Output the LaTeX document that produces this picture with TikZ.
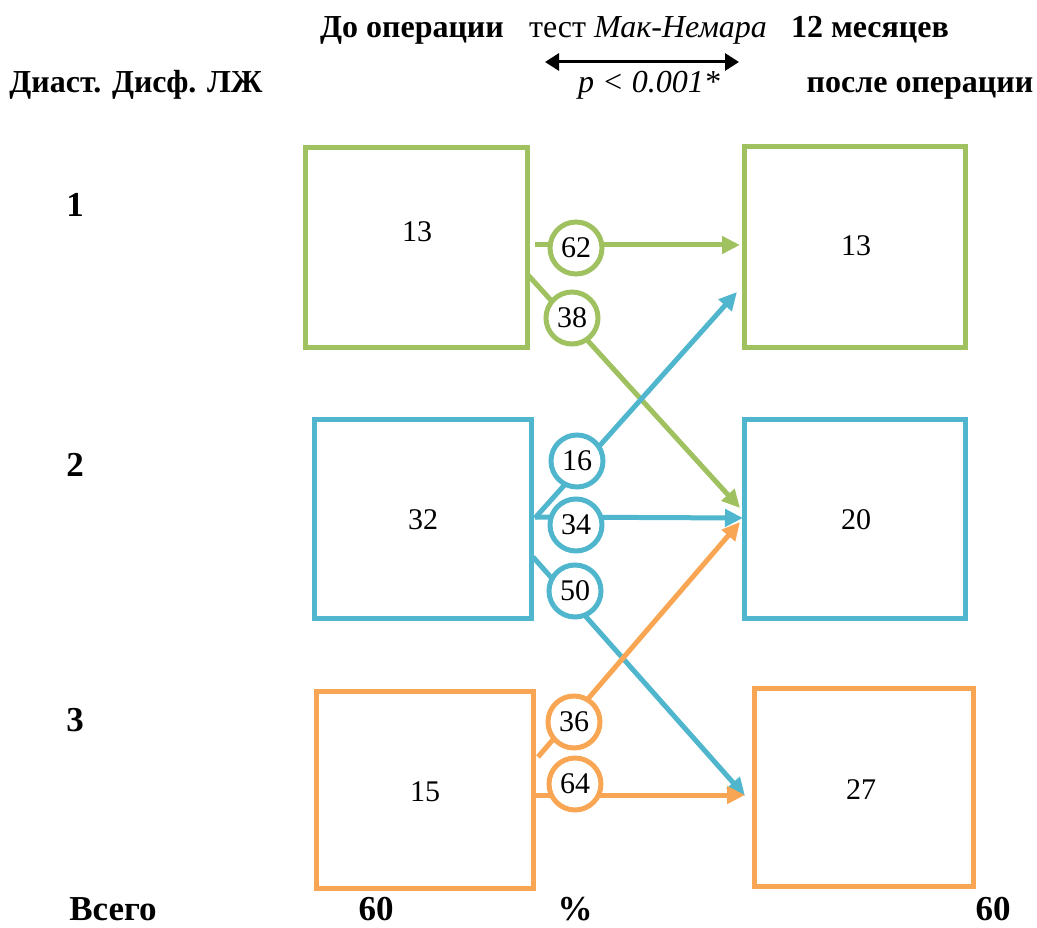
\documentclass[tikz,border=0pt]{standalone}
\usepackage{fontspec}
\setmainfont{Liberation Serif}
\usetikzlibrary{arrows.meta}
\definecolor{grn}{RGB}{160,193,96}
\definecolor{blu}{RGB}{80,182,205}
\definecolor{org}{RGB}{249,166,84}
\tikzset{
  grp/.style={draw=#1, line width=5pt, fill=white, inner sep=0pt},
  box/.style={grp=#1, rectangle},
  pct/.style={grp=#1, circle, minimum size=52pt, font=\fontsize{30}{33}\selectfont},
  num/.style={font=\fontsize{30}{33}\selectfont},
  flow/.style={draw=#1, line width=5pt, -{Triangle[length=18pt,width=17pt]}},
  head/.style={font=\bfseries\fontsize{32}{36}\selectfont, anchor=base},
  plain/.style={font=\fontsize{32}{36}\selectfont, anchor=base},
  big/.style={font=\bfseries\fontsize{35}{40}\selectfont, anchor=base, inner sep=0pt, text depth=0pt},
}
\begin{document}
\begin{tikzpicture}[x=1pt,y=-1pt]
\useasboundingbox (0,0) rectangle (1037,928);

% headings
\node[head] (hbefore) at (412,38) {До операции};
\node[plain] (htest) at (648,38) {тест \textit{Мак-Немара}};
\node[head] (hafter1) at (870,38) {12 месяцев};
\node[head] (hdd) at (136,93) {Диаст. Дисф. ЛЖ};
\node[plain] (hp) at (649,93) {\textit{p < 0.001*}};
\node[head] (hafter2) at (920,93) {после операции};
\coordinate (tl) at (545,62);
\coordinate (tr) at (739,62);
\draw[line width=3pt, {Triangle[length=14pt,width=17pt]}-{Triangle[length=14pt,width=17pt]}] (tl) -- (tr);

% row labels
\node[big] (r1) at (75,217) {1};
\node[big] (r2) at (75,476) {2};
\node[big] (r3) at (75,731) {3};

% boxes
\node[box=grn, minimum width=222pt, minimum height=200pt] (gl) at (416,247.5) {};
\node[box=grn, minimum width=221pt, minimum height=200pt] (gr) at (854.5,247) {};
\node[box=blu, minimum width=217pt, minimum height=199pt] (bl) at (422.5,518.5) {};
\node[box=blu, minimum width=221pt, minimum height=199pt] (br) at (854.5,518.5) {};
\node[box=org, minimum width=217pt, minimum height=197pt] (ol) at (424.5,789.5) {};
\node[box=org, minimum width=219pt, minimum height=198pt] (or) at (863.5,787) {};

% counts
\node[num] (ngl) at (417,232) {13};
\node[num] (ngr) at (856,246) {13};
\node[num] (nbl) at (423,520) {32};
\node[num] (nbr) at (856,520) {20};
\node[num] (nol) at (425,792) {15};
\node[num] (nor) at (861,790) {27};

% flow end points
\coordinate (g1s) at (535,245);  \coordinate (g1e) at (740,245);
\coordinate (g2s) at (528,275);  \coordinate (g2e) at (740,508);
\coordinate (b1s) at (535,518);  \coordinate (b1e) at (737,292);
\coordinate (b2s) at (535,517);  \coordinate (b2e) at (743,518);
\coordinate (b3s) at (533,557);  \coordinate (b3e) at (745,796);
\coordinate (o1s) at (538,757);  \coordinate (o1e) at (740,522);
\coordinate (o2s) at (533,795);  \coordinate (o2e) at (745,795);

% flows
\draw[flow=grn] (g1s) -- (g1e);
\draw[flow=grn] (g2s) -- (g2e);
\draw[flow=blu] (b1s) -- (b1e);
\draw[flow=blu] (b2s) -- (b2e);
\draw[flow=blu] (b3s) -- (b3e);
\draw[flow=org] (o1s) -- (o1e);
\draw[flow=org] (o2s) -- (o2e);

% percentages
\node[pct=grn] (p62) at (576,248) {62};
\node[pct=grn] (p38) at (572,318) {38};
\node[pct=blu] (p16) at (577,461) {16};
\node[pct=blu] (p34) at (576,525) {34};
\node[pct=blu] (p50) at (575,591) {50};
\node[pct=org] (p36) at (574,722) {36};
\node[pct=org] (p64) at (575,784) {64};

% totals
\node[big] (tall) at (113,920) {Всего};
\node[big] (tbefore) at (376,920) {60};
\node[big] (tpct) at (575,920) {\%};
\node[big] (tafter) at (993,920) {60};
\end{tikzpicture}
\end{document}
